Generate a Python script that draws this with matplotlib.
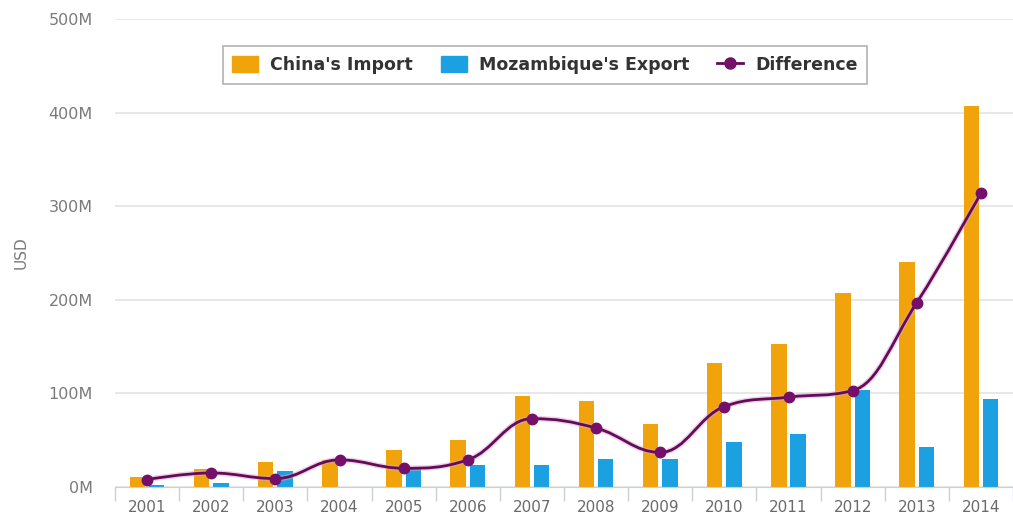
import numpy as np
import matplotlib.pyplot as plt
from matplotlib.path import Path
from matplotlib.patches import PathPatch, Patch
from matplotlib.lines import Line2D
from matplotlib.ticker import FuncFormatter, FixedLocator

years = ['2001', '2002', '2003', '2004', '2005', '2006', '2007',
         '2008', '2009', '2010', '2011', '2012', '2013', '2014']
# values in millions of USD
china_import = [11, 19, 27, 29, 40, 50, 97, 92, 67, 133, 153, 207, 240, 407]
moz_export = [2, 4, 17, 0, 19, 23, 24, 30, 30, 48, 57, 104, 43, 94]
difference = [8, 15, 9, 29, 20, 29, 73, 63, 37, 86, 96, 103, 197, 314]

c_orange = '#F0A30A'
c_blue = '#1BA1E2'
c_line = '#650c58'
c_marker = '#74106a'


def spline_path(xs, ys, smoothing=1.5):
    # highcharts-style spline: cubic bezier with smoothed control points
    n = len(xs)
    lc = [None] * n
    rc = [None] * n
    denom = smoothing + 1
    for i in range(1, n - 1):
        px, py = xs[i], ys[i]
        lx, ly = xs[i - 1], ys[i - 1]
        nx, ny = xs[i + 1], ys[i + 1]
        lcx = (smoothing * px + lx) / denom
        lcy = (smoothing * py + ly) / denom
        rcx = (smoothing * px + nx) / denom
        rcy = (smoothing * py + ny) / denom
        corr = 0
        if rcx != lcx:
            corr = (rcy - lcy) * (rcx - px) / (rcx - lcx) + py - rcy
        lcy += corr
        rcy += corr
        if lcy > ly and lcy > py:
            lcy = max(ly, py)
            rcy = 2 * py - lcy
        elif lcy < ly and lcy < py:
            lcy = min(ly, py)
            rcy = 2 * py - lcy
        if rcy > ny and rcy > py:
            rcy = max(ny, py)
            lcy = 2 * py - rcy
        elif rcy < ny and rcy < py:
            rcy = min(ny, py)
            lcy = 2 * py - rcy
        lc[i] = (lcx, lcy)
        rc[i] = (rcx, rcy)
    verts = [(xs[0], ys[0])]
    codes = [Path.MOVETO]
    for i in range(1, n):
        a = rc[i - 1] if rc[i - 1] is not None else (xs[i - 1], ys[i - 1])
        b = lc[i] if lc[i] is not None else (xs[i], ys[i])
        verts += [a, b, (xs[i], ys[i])]
        codes += [Path.CURVE4] * 3
    return Path(verts, codes)


fig = plt.figure(figsize=(10.13, 5.19), dpi=100)
ax = fig.add_axes([115 / 1013, 32 / 519, 898 / 1013, 468 / 519])

x = np.arange(len(years))
w = 0.24
off = 0.15
ax.bar(x - off, china_import, w, color=c_orange, zorder=2)
ax.bar(x + off, moz_export, w, color=c_blue, zorder=2)

path = spline_path(list(x.astype(float)), [float(v) for v in difference])
ax.add_patch(PathPatch(path, facecolor='none', edgecolor='#d9a6d0', lw=4,
                       alpha=0.5, zorder=3))
ax.add_patch(PathPatch(path, facecolor='none', edgecolor=c_line, lw=2, zorder=4))
ax.plot(x, difference, 'o', color=c_marker, ms=7.5, zorder=5)

ax.set_xlim(-0.5, 13.36)
ax.set_ylim(0, 500)

ax.yaxis.set_major_locator(FixedLocator([0, 100, 200, 300, 400, 500]))
ax.yaxis.set_major_formatter(FuncFormatter(lambda v, p: '%dM' % v))
ax.grid(axis='y', color='#e4e4e4', lw=1.2, zorder=0)
ax.set_axisbelow(True)
ax.tick_params(axis='y', length=0, pad=16, labelsize=11.5, labelcolor='#7a7a7a')

ax.set_xticks(x)
ax.set_xticklabels(years)
ax.set_xticks(np.arange(-0.5, 14, 1), minor=True)
ax.tick_params(axis='x', which='major', length=0, pad=9, labelsize=11,
               labelcolor='#6a6a6a')
ax.tick_params(axis='x', which='minor', length=10, color='#c8d0dc', width=1)

for s in ['top', 'right', 'left']:
    ax.spines[s].set_visible(False)
ax.spines['bottom'].set_color('#c8d0dc')

ax.set_ylabel('USD', color='#7a7a7a', fontsize=11, labelpad=14)

handles = [Patch(color=c_orange), Patch(color=c_blue),
           Line2D([], [], color=c_line, lw=2, marker='o', ms=8, mfc=c_marker, mec=c_marker)]
labels = ["China's Import", "Mozambique's Export", 'Difference']
leg = fig.legend(handles, labels, loc='center', bbox_to_anchor=(545 / 1013, 1 - 65 / 519),
                 ncol=3, frameon=True, fancybox=False, edgecolor='#a0a0a0',
                 prop={'weight': 'bold', 'size': 12.5}, labelcolor='#333333',
                 handlelength=1.5, handleheight=1.0, columnspacing=1.6,
                 borderpad=0.55, handletextpad=0.7)
leg.get_frame().set_linewidth(1.2)

fig.savefig('out.png', dpi=100)
